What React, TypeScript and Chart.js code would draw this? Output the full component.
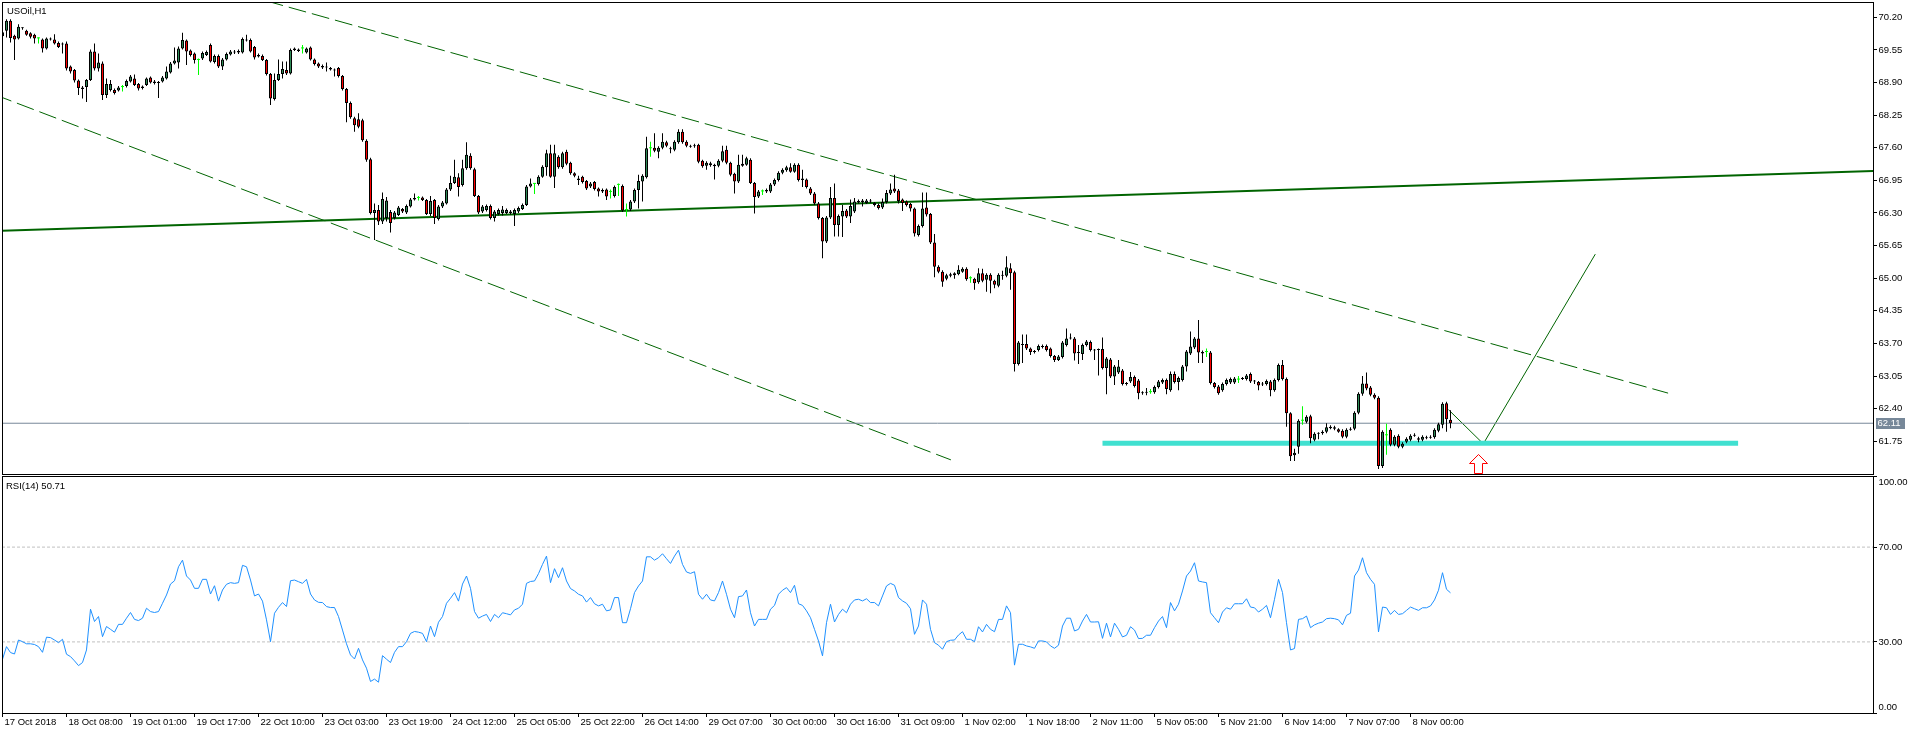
import React, { useEffect, useRef } from 'react';
import { Chart, registerables } from 'chart.js';

Chart.register(...registerables);

const FONT_FAMILY = '"Liberation Sans", Arial, sans-serif';
const FONT_SIZE = 9.5;

// ---- H1 candles, one entry per bar (bar 0 = 17 Oct 2018 15:00) ----
const opens: number[] = [
  69.90, 69.93, 70.13, 69.83, 69.78, 69.98, 69.93, 69.88, 69.85, 69.78,
  69.76, 69.58, 69.78, 69.76, 69.69, 69.66, 69.68, 69.22, 69.15, 68.94,
  68.80, 68.81, 68.95, 69.52, 69.18, 69.28, 68.65, 68.75, 68.75, 68.74,
  68.81, 68.83, 68.92, 68.98, 68.87, 68.79, 68.85, 69.00, 68.92, 68.89,
  68.92, 68.98, 69.10, 69.28, 69.30, 69.58, 69.74, 69.54, 69.48, 69.35,
  69.38, 69.45, 69.65, 69.31, 69.43, 69.22, 69.36, 69.46, 69.52, 69.50,
  69.50, 69.76, 69.75, 69.61, 69.45, 69.43, 69.35, 69.07, 68.57, 68.95,
  69.07, 69.15, 69.08, 69.55, 69.56, 69.58, 69.50, 69.60, 69.36, 69.28,
  69.23, 69.20, 69.19, 69.16, 69.19, 69.03, 68.77, 68.49, 68.19, 68.17,
  68.15, 67.74, 67.37, 66.30, 66.36, 66.13, 66.20, 66.32, 66.20, 66.26,
  66.38, 66.31, 66.43, 66.57, 66.60, 66.61, 66.56, 66.28, 66.56, 66.18,
  66.43, 66.49, 66.77, 66.90, 67.01, 66.86, 67.19, 67.44, 67.17, 66.64,
  66.33, 66.36, 66.44, 66.20, 66.28, 66.30, 66.30, 66.33, 66.28, 66.33,
  66.38, 66.46, 66.83, 66.88, 66.88, 67.02, 67.21, 67.49, 67.02, 67.42,
  67.21, 67.52, 67.30, 67.09, 66.99, 67.02, 66.94, 66.83, 66.92, 66.79,
  66.76, 66.77, 66.72, 66.64, 66.86, 66.84, 66.36, 66.37, 66.53, 66.76,
  66.93, 67.01, 67.59, 67.60, 67.52, 67.60, 67.71, 67.59, 67.56, 67.71,
  67.92, 67.72, 67.64, 67.63, 67.66, 67.34, 67.24, 67.29, 67.26, 67.24,
  67.34, 67.56, 67.30, 67.08, 66.93, 67.24, 67.26, 67.36, 66.90, 66.63,
  66.73, 66.73, 66.73, 66.87, 66.96, 67.10, 67.15, 67.21, 67.12, 67.26,
  66.96, 66.97, 66.79, 66.69, 66.49, 66.20, 65.73, 66.21, 66.60, 66.06,
  66.23, 66.35, 66.23, 66.33, 66.54, 66.52, 66.50, 66.55, 66.50, 66.46,
  66.41, 66.52, 66.69, 66.79, 66.75, 66.57, 66.53, 66.48, 66.39, 65.86,
  66.04, 66.41, 66.28, 65.71, 65.23, 65.13, 64.99, 65.05, 65.06, 65.08,
  65.13, 65.19, 65.00, 64.99, 64.92, 65.10, 64.97, 65.07, 64.95, 64.85,
  65.07, 65.05, 65.20, 65.12, 63.29, 63.69, 63.69, 63.60, 63.55, 63.57,
  63.65, 63.65, 63.60, 63.45, 63.37, 63.43, 63.67, 63.80, 63.80, 63.53,
  63.49, 63.67, 63.73, 63.57, 63.58, 63.59, 63.21, 63.38, 63.04, 63.12,
  63.16, 62.91, 62.94, 63.03, 62.96, 62.73, 62.74, 62.73, 62.73, 62.83,
  62.92, 62.97, 62.77, 63.09, 62.93, 62.97, 63.24, 63.50, 63.62, 63.80,
  63.53, 63.53, 63.52, 62.91, 62.84, 62.77, 62.89, 62.92, 62.92, 62.98,
  63.01, 62.99, 63.09, 62.95, 62.93, 62.88, 62.89, 62.94, 62.77, 62.97,
  63.27, 62.99, 62.31, 61.47, 61.64, 62.16, 62.14, 62.25, 61.78, 61.90,
  61.91, 61.94, 62.01, 62.03, 61.99, 61.96, 61.84, 61.98, 62.00, 62.32,
  62.70, 62.90, 62.82, 62.68, 62.62, 61.26, 61.87, 61.98, 61.68, 61.86,
  61.64, 61.74, 61.78, 61.86, 61.81, 61.78, 61.83, 61.82, 61.83, 61.96,
  62.08, 62.51, 62.18,
];

const highs: number[] = [
  69.93, 70.16, 70.16, 69.85, 70.06, 70.00, 69.95, 69.90, 69.87, 69.80,
  69.78, 69.80, 69.80, 69.86, 69.72, 69.70, 69.72, 69.24, 69.17, 68.96,
  68.83, 68.97, 69.56, 69.68, 69.48, 69.32, 68.98, 68.95, 68.78, 68.83,
  68.85, 68.96, 69.05, 69.06, 68.89, 68.84, 69.00, 69.02, 68.95, 68.93,
  69.03, 69.22, 69.31, 69.60, 69.62, 69.89, 69.76, 69.56, 69.50, 69.38,
  69.52, 69.54, 69.68, 69.46, 69.46, 69.39, 69.50, 69.55, 69.55, 69.56,
  69.80, 69.85, 69.78, 69.63, 69.48, 69.46, 69.37, 69.09, 69.08, 69.36,
  69.32, 69.32, 69.58, 69.60, 69.58, 69.65, 69.60, 69.62, 69.38, 69.30,
  69.26, 69.30, 69.21, 69.18, 69.21, 69.05, 68.79, 68.52, 68.22, 68.29,
  68.18, 67.77, 67.40, 66.49, 66.46, 66.71, 66.62, 66.36, 66.34, 66.44,
  66.40, 66.47, 66.60, 66.69, 66.64, 66.63, 66.58, 66.64, 66.58, 66.46,
  66.54, 66.80, 67.04, 67.36, 67.09, 67.36, 67.71, 67.49, 67.20, 66.66,
  66.46, 66.47, 66.47, 66.36, 66.39, 66.44, 66.39, 66.36, 66.39, 66.43,
  66.49, 66.86, 66.99, 66.89, 67.05, 67.25, 67.56, 67.66, 67.66, 67.45,
  67.52, 67.56, 67.32, 67.11, 67.04, 67.04, 66.96, 66.92, 66.94, 66.81,
  66.79, 66.79, 66.77, 66.85, 66.89, 66.87, 66.49, 66.56, 66.79, 67.06,
  67.07, 67.82, 67.72, 67.89, 67.63, 67.89, 67.74, 67.62, 67.75, 67.97,
  67.97, 67.75, 67.66, 67.68, 67.68, 67.36, 67.33, 67.32, 67.28, 67.37,
  67.64, 67.64, 67.32, 67.10, 67.46, 67.46, 67.42, 67.39, 66.92, 66.76,
  66.77, 66.79, 66.90, 66.99, 67.13, 67.19, 67.24, 67.29, 67.29, 67.29,
  67.16, 66.99, 66.82, 66.72, 66.52, 66.22, 66.24, 66.82, 66.89, 66.27,
  66.46, 66.38, 66.57, 66.60, 66.57, 66.58, 66.58, 66.58, 66.52, 66.49,
  66.59, 66.76, 66.89, 67.06, 66.78, 66.59, 66.55, 66.50, 66.41, 66.07,
  66.71, 66.71, 66.30, 65.88, 65.26, 65.16, 65.09, 65.11, 65.12, 65.26,
  65.22, 65.22, 65.04, 65.01, 65.20, 65.19, 65.10, 65.10, 64.97, 65.10,
  65.15, 65.44, 65.30, 65.15, 63.75, 63.88, 63.88, 63.62, 63.57, 63.68,
  63.68, 63.68, 63.62, 63.47, 63.47, 63.75, 64.00, 63.90, 63.83, 63.67,
  63.70, 63.77, 63.76, 63.59, 63.60, 63.82, 63.43, 63.41, 63.27, 63.37,
  63.19, 62.93, 63.13, 63.06, 62.99, 62.75, 62.81, 62.79, 62.86, 62.97,
  63.00, 63.00, 63.14, 63.14, 63.04, 63.27, 63.57, 63.94, 63.83, 64.17,
  63.56, 63.60, 63.55, 62.93, 62.87, 62.92, 63.00, 63.02, 63.03, 63.05,
  63.03, 63.09, 63.12, 62.97, 62.95, 62.93, 62.98, 62.97, 63.00, 63.30,
  63.37, 63.02, 62.33, 61.60, 62.19, 62.45, 62.27, 62.28, 61.93, 61.93,
  61.97, 62.11, 62.07, 62.06, 62.01, 61.99, 62.01, 62.03, 62.35, 62.73,
  63.05, 63.12, 62.85, 62.71, 62.65, 61.97, 62.10, 62.01, 61.87, 61.89,
  61.73, 61.83, 61.89, 61.91, 61.84, 61.87, 61.86, 61.87, 62.01, 62.12,
  62.53, 62.54, 62.37,
];

const lows: number[] = [
  69.79, 69.80, 69.70, 69.35, 69.76, 69.95, 69.83, 69.78, 69.68, 69.68,
  69.50, 69.56, 69.74, 69.66, 69.59, 69.48, 69.14, 69.08, 68.90, 68.65,
  68.58, 68.51, 68.93, 69.14, 69.12, 68.55, 68.59, 68.72, 68.66, 68.72,
  68.72, 68.80, 68.90, 68.83, 68.74, 68.76, 68.83, 68.88, 68.86, 68.59,
  68.90, 68.96, 69.08, 69.26, 69.18, 69.56, 69.25, 69.42, 69.28, 69.05,
  69.35, 69.43, 69.30, 69.28, 69.19, 69.15, 69.34, 69.44, 69.47, 69.47,
  69.48, 69.72, 69.50, 69.36, 69.40, 69.33, 69.04, 68.45, 68.54, 68.93,
  68.98, 69.05, 69.06, 69.53, 69.51, 69.48, 69.48, 69.34, 69.24, 69.19,
  69.17, 69.12, 69.14, 69.02, 69.00, 68.74, 68.11, 68.18, 67.92, 67.99,
  67.72, 67.32, 66.27, 65.76, 66.06, 66.08, 66.13, 65.91, 66.17, 66.24,
  66.30, 66.28, 66.41, 66.55, 66.55, 66.54, 66.26, 66.24, 66.08, 66.15,
  66.40, 66.47, 66.74, 66.88, 66.63, 66.83, 67.16, 67.16, 66.62, 66.28,
  66.30, 66.33, 66.17, 66.13, 66.25, 66.25, 66.28, 66.27, 66.04, 66.30,
  66.36, 66.44, 66.81, 66.68, 66.85, 67.00, 67.04, 67.00, 66.80, 67.18,
  67.18, 67.25, 67.06, 67.01, 66.86, 66.89, 66.76, 66.80, 66.75, 66.63,
  66.70, 66.56, 66.59, 66.61, 66.64, 66.32, 66.23, 66.34, 66.50, 66.39,
  66.53, 66.99, 67.42, 67.51, 67.39, 67.57, 67.61, 67.49, 67.53, 67.68,
  67.68, 67.61, 67.60, 67.60, 67.29, 67.20, 67.16, 67.22, 66.97, 67.21,
  67.31, 67.27, 67.03, 66.69, 66.90, 67.22, 67.24, 66.88, 66.29, 66.60,
  66.66, 66.70, 66.70, 66.84, 66.93, 67.07, 67.12, 67.10, 67.10, 66.93,
  66.82, 66.79, 66.66, 66.46, 66.17, 65.40, 65.70, 66.18, 65.83, 65.83,
  65.82, 66.20, 66.10, 66.30, 66.49, 66.43, 66.48, 66.50, 66.43, 66.37,
  66.38, 66.49, 66.66, 66.70, 66.49, 66.34, 66.43, 66.33, 65.83, 65.83,
  66.01, 66.23, 65.68, 65.02, 65.10, 64.83, 64.96, 65.02, 64.99, 65.06,
  65.11, 64.95, 64.91, 64.77, 64.89, 64.92, 64.73, 64.70, 64.80, 64.82,
  64.97, 65.02, 64.77, 63.14, 63.26, 63.31, 63.57, 63.47, 63.50, 63.54,
  63.60, 63.54, 63.42, 63.33, 63.35, 63.40, 63.64, 63.78, 63.36, 63.29,
  63.37, 63.64, 63.54, 63.37, 63.06, 63.18, 62.69, 63.01, 62.87, 63.09,
  62.86, 62.86, 62.91, 62.82, 62.59, 62.68, 62.67, 62.70, 62.70, 62.80,
  62.89, 62.69, 62.74, 62.90, 62.77, 62.94, 63.14, 63.47, 63.59, 63.31,
  63.31, 63.43, 62.88, 62.80, 62.68, 62.74, 62.86, 62.89, 62.89, 62.91,
  62.97, 62.96, 62.91, 62.89, 62.77, 62.85, 62.86, 62.65, 62.74, 62.94,
  62.96, 62.04, 61.36, 61.36, 61.50, 62.08, 62.11, 61.71, 61.75, 61.79,
  61.88, 61.91, 61.99, 61.97, 61.92, 61.81, 61.81, 61.96, 61.97, 62.29,
  62.66, 62.77, 62.65, 62.59, 61.20, 61.22, 61.48, 61.65, 61.65, 61.61,
  61.61, 61.71, 61.75, 61.84, 61.73, 61.75, 61.79, 61.80, 61.80, 61.93,
  62.01, 61.94, 62.01,
];

const closes: number[] = [
  69.82, 70.13, 69.79, 69.76, 70.01, 69.99, 69.85, 69.81, 69.78, 69.78,
  69.58, 69.78, 69.76, 69.68, 69.61, 69.67, 69.18, 69.12, 68.94, 68.79,
  68.77, 68.95, 69.52, 69.18, 69.30, 68.65, 68.87, 68.87, 68.69, 68.80,
  68.81, 68.93, 69.02, 68.85, 68.78, 68.82, 68.98, 68.90, 68.89, 68.91,
  69.00, 69.12, 69.28, 69.34, 69.58, 69.75, 69.52, 69.45, 69.35, 69.35,
  69.49, 69.51, 69.32, 69.43, 69.22, 69.36, 69.47, 69.52, 69.50, 69.53,
  69.77, 69.74, 69.52, 69.40, 69.42, 69.35, 69.07, 68.58, 68.95, 69.07,
  69.17, 69.08, 69.55, 69.58, 69.53, 69.58, 69.58, 69.36, 69.27, 69.22,
  69.20, 69.22, 69.16, 69.14, 69.03, 68.77, 68.49, 68.21, 68.05, 68.02,
  67.75, 67.36, 66.30, 66.36, 66.13, 66.58, 66.55, 66.10, 66.31, 66.41,
  66.33, 66.44, 66.57, 66.60, 66.60, 66.56, 66.28, 66.54, 66.20, 66.43,
  66.51, 66.77, 66.90, 67.02, 66.82, 67.19, 67.46, 67.19, 66.64, 66.31,
  66.43, 66.44, 66.20, 66.33, 66.36, 66.37, 66.36, 66.30, 66.36, 66.40,
  66.46, 66.83, 66.89, 66.88, 67.02, 67.22, 67.49, 67.02, 67.49, 67.21,
  67.49, 67.28, 67.09, 67.04, 66.96, 66.92, 66.79, 66.89, 66.78, 66.73,
  66.73, 66.63, 66.72, 66.82, 66.86, 66.35, 66.36, 66.53, 66.76, 66.94,
  67.04, 67.59, 67.59, 67.54, 67.60, 67.72, 67.64, 67.57, 67.72, 67.92,
  67.71, 67.64, 67.62, 67.65, 67.32, 67.23, 67.30, 67.25, 67.23, 67.34,
  67.53, 67.30, 67.06, 66.93, 67.26, 67.28, 67.39, 66.90, 66.62, 66.73,
  66.73, 66.76, 66.87, 66.96, 67.10, 67.16, 67.21, 67.12, 67.26, 66.96,
  66.99, 66.82, 66.69, 66.49, 66.20, 65.73, 66.21, 66.60, 66.06, 66.24,
  66.34, 66.23, 66.44, 66.53, 66.51, 66.55, 66.55, 66.53, 66.46, 66.40,
  66.52, 66.70, 66.77, 66.73, 66.54, 66.50, 66.46, 66.39, 65.89, 66.04,
  66.39, 66.27, 65.71, 65.23, 65.13, 64.93, 65.06, 65.08, 65.10, 65.17,
  65.19, 64.98, 65.00, 64.90, 65.10, 64.95, 65.07, 64.95, 64.87, 65.07,
  65.05, 65.22, 65.10, 63.29, 63.72, 63.67, 63.60, 63.53, 63.53, 63.65,
  63.63, 63.57, 63.45, 63.37, 63.44, 63.72, 63.80, 63.82, 63.50, 63.51,
  63.67, 63.74, 63.57, 63.56, 63.57, 63.21, 63.40, 63.04, 63.24, 63.24,
  62.89, 62.89, 63.03, 62.85, 62.71, 62.71, 62.72, 62.73, 62.83, 62.94,
  62.97, 62.79, 63.09, 62.93, 63.01, 63.24, 63.54, 63.64, 63.80, 63.52,
  63.50, 63.53, 62.91, 62.83, 62.71, 62.89, 62.97, 62.99, 63.00, 62.98,
  62.99, 63.06, 62.94, 62.94, 62.86, 62.90, 62.95, 62.77, 62.97, 63.27,
  62.99, 62.31, 61.45, 61.52, 62.16, 62.16, 62.24, 61.81, 61.90, 61.91,
  61.94, 62.03, 62.04, 62.00, 61.94, 61.84, 61.98, 62.00, 62.32, 62.70,
  62.90, 62.80, 62.68, 62.62, 61.26, 61.94, 61.87, 61.68, 61.84, 61.64,
  61.70, 61.80, 61.86, 61.88, 61.78, 61.84, 61.81, 61.84, 61.98, 62.09,
  62.50, 62.19, 62.11,
];

// ---- RSI(14) per bar ----
const rsiValues: number[] = [
  22.7, 28.0, 25.5, 24.9, 30.8, 30.1, 29.2, 29.2, 28.9, 28.0,
  25.6, 32.0, 31.8, 30.8, 29.7, 31.1, 24.8, 23.8, 22.0, 20.0,
  21.3, 26.6, 43.8, 38.6, 40.7, 32.2, 36.5, 35.3, 34.1, 37.4,
  37.4, 40.0, 42.4, 39.5, 39.0, 40.0, 44.2, 42.8, 42.4, 42.8,
  46.3, 49.8, 54.4, 55.8, 61.7, 64.5, 57.8, 56.1, 52.6, 52.6,
  56.4, 56.4, 50.2, 53.7, 47.2, 51.9, 54.3, 55.0, 54.7, 55.0,
  62.3, 61.7, 56.1, 49.4, 50.2, 47.2, 39.3, 30.1, 42.1, 44.6,
  46.6, 44.9, 55.8, 56.1, 55.4, 54.7, 56.4, 50.2, 47.7, 46.7,
  46.6, 44.9, 44.5, 44.5, 40.7, 35.0, 29.2, 24.5, 22.8, 27.3,
  22.4, 18.9, 13.3, 14.3, 13.0, 24.2, 22.7, 21.3, 25.6, 28.0,
  28.0, 30.1, 33.6, 34.4, 34.1, 33.6, 30.1, 36.7, 32.2, 38.3,
  40.7, 46.3, 48.4, 50.8, 47.2, 54.4, 57.8, 52.6, 42.8, 40.0,
  40.9, 41.6, 38.6, 41.6, 40.2, 42.3, 41.9, 41.4, 43.5, 44.2,
  45.9, 54.7, 55.5, 55.7, 58.8, 62.7, 66.2, 55.0, 60.9, 57.1,
  61.3, 55.7, 52.5, 51.5, 50.1, 49.4, 46.8, 48.7, 46.1, 45.2,
  45.9, 43.1, 43.5, 48.7, 48.7, 38.1, 38.1, 44.0, 50.8, 53.6,
  55.7, 65.9, 65.9, 64.5, 65.5, 67.2, 65.1, 63.1, 66.2, 68.7,
  62.7, 59.5, 58.9, 59.6, 50.1, 48.0, 50.1, 47.7, 47.3, 50.8,
  55.7, 50.1, 43.8, 40.2, 49.1, 49.4, 51.9, 42.3, 36.7, 39.5,
  39.5, 39.5, 43.8, 45.4, 50.1, 51.8, 52.9, 50.8, 53.9, 46.1,
  45.4, 43.1, 40.2, 35.3, 30.4, 24.1, 38.1, 45.9, 38.4, 41.6,
  43.8, 42.3, 45.9, 47.7, 48.0, 47.3, 48.2, 46.6, 46.6, 45.2,
  49.4, 53.6, 54.7, 53.9, 48.7, 47.3, 46.3, 44.0, 33.2, 36.7,
  47.7, 45.9, 35.3, 29.7, 28.6, 26.9, 30.1, 30.7, 30.8, 32.9,
  34.3, 31.1, 31.1, 30.1, 36.4, 34.2, 37.4, 35.3, 34.3, 39.5,
  39.5, 45.2, 42.3, 20.2, 29.0, 29.0, 28.3, 27.9, 27.3, 30.4,
  30.4, 30.0, 28.3, 27.3, 28.6, 36.7, 40.0, 40.0, 34.6, 35.3,
  38.8, 41.6, 38.4, 38.4, 38.5, 31.5, 37.9, 32.1, 37.9, 35.3,
  32.1, 32.8, 36.4, 35.0, 31.4, 31.5, 32.8, 32.8, 36.0, 38.8,
  40.7, 36.0, 46.6, 43.1, 45.9, 51.5, 57.8, 59.9, 63.4, 55.7,
  55.3, 55.0, 42.3, 40.2, 38.1, 42.6, 44.4, 43.8, 46.1, 46.1,
  46.1, 48.2, 44.7, 44.4, 42.6, 43.8, 45.4, 40.2, 48.0, 56.4,
  50.8, 38.1, 26.6, 27.2, 39.5, 39.8, 40.9, 36.0, 37.2, 37.9,
  38.4, 39.8, 40.0, 39.8, 39.3, 37.2, 41.2, 42.1, 57.8, 60.3,
  65.5, 59.2, 56.4, 54.3, 34.2, 44.7, 44.4, 41.6, 43.3, 41.6,
  41.9, 43.3, 44.7, 44.0, 43.3, 44.4, 44.4, 45.2, 47.7, 51.8,
  59.2, 52.2, 50.71,
];

// ---- axis labels ----
const timeLabels: string[] = [
  '17 Oct 2018', '18 Oct 08:00', '19 Oct 01:00', '19 Oct 17:00', '22 Oct 10:00',
  '23 Oct 03:00', '23 Oct 19:00', '24 Oct 12:00', '25 Oct 05:00', '25 Oct 22:00',
  '26 Oct 14:00', '29 Oct 07:00', '30 Oct 00:00', '30 Oct 16:00', '31 Oct 09:00',
  '1 Nov 02:00', '1 Nov 18:00', '2 Nov 11:00', '5 Nov 05:00', '5 Nov 21:00',
  '6 Nov 14:00', '7 Nov 07:00', '8 Nov 00:00',
];
const barsPerTimeLabel = 16;
const priceTicks: number[] = [
  61.75, 62.40, 63.05, 63.70, 64.35, 65.00, 65.65, 66.30, 66.95, 67.60, 68.25, 68.90, 69.55, 70.20,
];
const rsiTicks: number[] = [0, 30, 70, 100];
const rsiLevels: number[] = [30, 70];

const symbolTitle = 'USOil,H1';
const rsiTitle = 'RSI(14) 50.71';
const bidPrice = 62.11;

// visible ranges (bar index / price)
const barRange: number[] = [-0.125, 467.625];
const priceRange: number[] = [61.0985, 70.505];

// ---- drawn objects, in bar index / price units ----
const upperChannelBars: number[] = [60, 416.4];
const upperChannelPrices: number[] = [70.66, 62.71];
const lowerChannelBars: number[] = [-2, 237.1];
const lowerChannelPrices: number[] = [68.66, 61.38];
const trendLineBars: number[] = [-1, 468];
const trendLinePrices: number[] = [65.944, 67.139];
const supportZoneBars: number[] = [275, 433.9];
const supportZonePrices: number[] = [61.71, 61.71];
const scenarioBars: number[] = [361.5, 370.2, 398.2];
const scenarioPrices: number[] = [62.38, 61.70, 65.48];
const arrowBars: number[] = [369];
const arrowPrices: number[] = [61.298];

const BULL = '#2E8B57';
const BEAR = '#FF0000';
const DOJI = '#00FF00';
const OUTLINE = '#000000';
const TREND = '#006400';
const ZONE = '#40E0D0';
const BID = '#778899';
const RSI_COLOR = '#1E90FF';
const LEVEL = '#C0C0C0';

const tickFont = { family: FONT_FAMILY, size: FONT_SIZE };

function pts(xs: number[], ys: number[]) {
  return xs.map((x, k) => ({ x, y: ys[k] }));
}

export default function App() {
  const mainRef = useRef<HTMLCanvasElement>(null);
  const rsiRef = useRef<HTMLCanvasElement>(null);

  useEffect(() => {
    if (!mainRef.current || !rsiRef.current) return;
    const bars = closes.map((_, i) => i);
    const isDoji = (i: number) => opens[i] === closes[i];

    const arrow = document.createElement('canvas');
    arrow.width = 19;
    arrow.height = 20;
    const ac = arrow.getContext('2d')!;
    ac.beginPath();
    ac.moveTo(9.5, 0.5);
    ac.lineTo(18.5, 9.5);
    ac.lineTo(13.5, 9.5);
    ac.lineTo(13.5, 19.5);
    ac.lineTo(5.5, 19.5);
    ac.lineTo(5.5, 9.5);
    ac.lineTo(0.5, 9.5);
    ac.closePath();
    ac.fillStyle = '#ffffff';
    ac.fill();
    ac.strokeStyle = '#ff0000';
    ac.lineWidth = 1;
    ac.stroke();

    const lineDs = (data: any[], color: string, width: number, dash: number[] = []) => ({
      type: 'line' as const,
      data,
      borderColor: color,
      borderWidth: width,
      borderDash: dash,
      borderCapStyle: 'butt' as const,
      pointRadius: 0,
      tension: 0,
      fill: false,
      order: 10,
    });

    const mainDecor = {
      id: 'mainDecor',
      afterDatasetsDraw(chart: any) {
        const { ctx, chartArea: a, scales } = chart;
        ctx.save();
        ctx.strokeStyle = '#000';
        ctx.lineWidth = 1;
        ctx.strokeRect(a.left + 0.5, a.top + 0.5, a.right - a.left, a.bottom - a.top);
        ctx.fillStyle = '#000';
        ctx.font = `${FONT_SIZE}px ${FONT_FAMILY}`;
        ctx.textBaseline = 'alphabetic';
        ctx.textAlign = 'left';
        ctx.fillText(symbolTitle, a.left + 5, a.top + 11.5);
        const y = Math.round(scales.y.getPixelForValue(bidPrice));
        ctx.fillStyle = BID;
        ctx.fillRect(a.right + 3, y - 5, 29, 11);
        ctx.fillStyle = '#fff';
        ctx.textBaseline = 'middle';
        ctx.fillText(bidPrice.toFixed(2), a.right + 4.5, y + 0.5);
        ctx.restore();
      },
    };

    const rsiDecor = {
      id: 'rsiDecor',
      afterDatasetsDraw(chart: any) {
        const { ctx, chartArea: a } = chart;
        ctx.save();
        ctx.strokeStyle = '#000';
        ctx.lineWidth = 1;
        ctx.strokeRect(a.left + 0.5, a.top + 0.5, a.right - a.left, a.bottom - a.top);
        ctx.fillStyle = '#000';
        ctx.font = `${FONT_SIZE}px ${FONT_FAMILY}`;
        ctx.textBaseline = 'alphabetic';
        ctx.textAlign = 'left';
        ctx.fillText(rsiTitle, a.left + 4, a.top + 12.5);
        ctx.restore();
      },
    };

    const mainChart = new Chart(mainRef.current, {
      type: 'bar',
      data: {
        datasets: [
          {
            type: 'bar',
            label: 'wicks',
            data: bars.map((i) => ({ x: i, y: [lows[i], highs[i]] })) as any,
            backgroundColor: bars.map((i) => (isDoji(i) ? DOJI : OUTLINE)),
            borderWidth: 0,
            barThickness: 1,
            grouped: false,
            inflateAmount: 0,
            order: 2,
          } as any,
          {
            type: 'bar',
            label: 'bodies',
            data: bars.map((i) => ({ x: i, y: [opens[i], closes[i]] })) as any,
            backgroundColor: bars.map((i) => (isDoji(i) ? DOJI : closes[i] > opens[i] ? BULL : BEAR)),
            borderColor: bars.map((i) => (isDoji(i) ? DOJI : OUTLINE)),
            borderWidth: bars.map((i) => (isDoji(i) ? 0 : 1)),
            borderSkipped: false,
            barThickness: 3,
            minBarLength: 1,
            grouped: false,
            inflateAmount: 0,
            order: 1,
          } as any,
          lineDs(pts([barRange[0] - 1, barRange[1] + 1], [bidPrice, bidPrice]), BID, 1),
          lineDs(pts(upperChannelBars, upperChannelPrices), TREND, 1, [18, 6]),
          lineDs(pts(lowerChannelBars, lowerChannelPrices), TREND, 1, [18, 6]),
          lineDs(pts(trendLineBars, trendLinePrices), TREND, 2),
          lineDs(pts(supportZoneBars, supportZonePrices), ZONE, 5),
          lineDs(pts(scenarioBars, scenarioPrices), TREND, 1),
          {
            type: 'line',
            data: pts(arrowBars, arrowPrices),
            showLine: false,
            pointStyle: arrow,
            pointRadius: 10,
            clip: false,
            order: 0,
          } as any,
        ],
      },
      options: {
        responsive: false,
        maintainAspectRatio: false,
        animation: false,
        events: [],
        layout: { autoPadding: false, padding: { left: 2, right: 0, top: 2, bottom: 1 } },
        plugins: { legend: { display: false }, tooltip: { enabled: false }, title: { display: false } },
        scales: {
          x: {
            type: 'linear',
            min: barRange[0],
            max: barRange[1],
            display: false,
            offset: false,
            grid: { offset: false },
          },
          y: {
            type: 'linear',
            position: 'right',
            min: priceRange[0],
            max: priceRange[1],
            afterBuildTicks: (s: any) => {
              s.ticks = priceTicks.map((v) => ({ value: v }));
            },
            afterFit: (s: any) => {
              s.width = 43;
              s.paddingTop = 0;
              s.paddingBottom = 0;
            },
            ticks: {
              callback: (v: any) => Number(v).toFixed(2),
              font: tickFont,
              color: '#000',
              padding: 1.5,
              autoSkip: false,
            },
            grid: { drawOnChartArea: false, drawTicks: true, tickLength: 4, color: '#000' },
            border: { display: false },
          },
        },
      } as any,
      plugins: [mainDecor],
    });

    const rsiChart = new Chart(rsiRef.current, {
      type: 'line',
      data: {
        datasets: [
          {
            type: 'line',
            data: pts(bars, rsiValues),
            borderColor: RSI_COLOR,
            borderWidth: 1,
            pointRadius: 0,
            tension: 0,
            fill: false,
            order: 1,
          },
          ...rsiLevels.map((lv) => ({
            type: 'line' as const,
            data: pts([barRange[0], barRange[1]], [lv, lv]),
            borderColor: LEVEL,
            borderWidth: 1,
            borderDash: [3, 2],
            pointRadius: 0,
            tension: 0,
            fill: false,
            order: 2,
          })),
        ],
      },
      options: {
        responsive: false,
        maintainAspectRatio: false,
        animation: false,
        events: [],
        layout: { autoPadding: false, padding: { left: 2, right: 0, top: 1, bottom: 0 } },
        plugins: { legend: { display: false }, tooltip: { enabled: false }, title: { display: false } },
        scales: {
          x: {
            type: 'linear',
            position: 'bottom',
            min: barRange[0],
            max: barRange[1],
            offset: false,
            afterBuildTicks: (s: any) => {
              s.ticks = timeLabels.map((_, k) => ({ value: k * barsPerTimeLabel }));
            },
            afterFit: (s: any) => {
              s.height = 21;
              s.paddingLeft = 0;
              s.paddingRight = 0;
            },
            ticks: {
              callback: (_v: any, idx: number) => timeLabels[idx],
              align: 'start',
              autoSkip: false,
              maxRotation: 0,
              minRotation: 0,
              padding: 0,
              labelOffset: 2,
              font: tickFont,
              color: '#000',
            },
            grid: { drawOnChartArea: false, drawTicks: true, tickLength: 4, color: '#000', offset: false },
            border: { display: false },
          },
          y: {
            type: 'linear',
            position: 'right',
            min: 0,
            max: 100,
            afterBuildTicks: (s: any) => {
              s.ticks = rsiTicks.map((v) => ({ value: v }));
            },
            afterFit: (s: any) => {
              s.width = 43;
              s.paddingTop = 0;
              s.paddingBottom = 0;
            },
            ticks: {
              callback: (v: any) => {
                const t = Number(v).toFixed(2);
                if (v === 100) return ['', t];
                if (v === 0) return [t, ''];
                return t;
              },
              font: { family: FONT_FAMILY, size: FONT_SIZE, lineHeight: 1.25 },
              color: '#000',
              padding: 1.5,
              autoSkip: false,
            },
            grid: { drawOnChartArea: false, drawTicks: true, tickLength: 4, color: '#000' },
            border: { display: false },
          },
        },
      } as any,
      plugins: [rsiDecor],
    });

    return () => {
      mainChart.destroy();
      rsiChart.destroy();
    };
  }, []);

  return (
    <div
      style={{
        position: 'fixed',
        left: 0,
        top: 0,
        width: 1916,
        height: 734,
        background: '#ffffff',
        overflow: 'hidden',
      }}
    >
      <canvas
        ref={mainRef}
        width={1916}
        height={475}
        style={{ position: 'absolute', left: 0, top: 0, width: 1916, height: 475 }}
      />
      <canvas
        ref={rsiRef}
        width={1916}
        height={259}
        style={{ position: 'absolute', left: 0, top: 475, width: 1916, height: 259 }}
      />
    </div>
  );
}
